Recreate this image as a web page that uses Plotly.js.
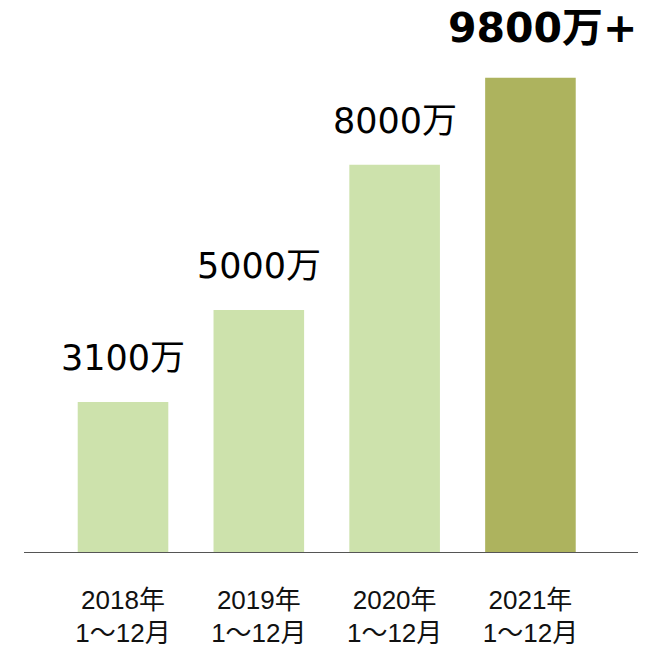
<!DOCTYPE html>
<html>
<head>
<meta charset="utf-8">
<script src="https://cdn.plot.ly/plotly-3.0.1.min.js"></script>
<style>html,body{margin:0;padding:0;background:#fff;}</style>
</head>
<body>
<div id="chart" style="width:648px;height:650px;"></div>
<script>
const categories = ["2018年<br>1～12月", "2019年<br>1～12月", "2020年<br>1～12月", "2021年<br>1～12月"];
const values = [3100, 5000, 8000, 9800];
const valueLabels = ["3100万", "5000万", "8000万", "9800万+"];
const barColors = ["#CDE2AC", "#CDE2AC", "#CDE2AC", "#ADB35E"];

const valFont = "'DejaVu Sans', 'Noto Sans CJK SC', sans-serif";
const tickFont = "'Liberation Sans', 'Noto Sans CJK SC', sans-serif";
const xIdx = categories.map((c, i) => i);
const last = values.length - 1;

const annotations = values.map((v, i) => ({
  x: i, y: v, xref: "x", yref: "y",
  text: i === last ? "<b>" + valueLabels[i] + "</b>" : valueLabels[i],
  showarrow: false, yanchor: "bottom",
  yshift: i === last ? 24 : 22, xshift: i === last ? 12 : 0,
  font: {family: valFont, size: i === last ? 41 : 35, color: "#000"}
}));

const trace = {
  type: "bar", x: xIdx, y: values,
  marker: {color: barColors},
  width: 0.667, hoverinfo: "none"
};

const layout = {
  width: 648, height: 650,
  margin: {l: 24, r: 10, t: 0, b: 98},
  paper_bgcolor: "#fff", plot_bgcolor: "#fff",
  showlegend: false,
  xaxis: {
    range: [-0.729, 3.792], tickvals: xIdx, ticktext: categories,
    showline: true, linecolor: "#555555", linewidth: 1.3,
    showgrid: false, zeroline: false, ticks: "",
    ticklabelstandoff: 24,
    tickfont: {family: tickFont, size: 26, color: "#111"}
  },
  yaxis: {
    range: [0, 11405], visible: false, showgrid: false, zeroline: false
  },
  annotations: annotations
};

Plotly.newPlot("chart", [trace], layout, {displayModeBar: false, staticPlot: true});
</script>
</body>
</html>
